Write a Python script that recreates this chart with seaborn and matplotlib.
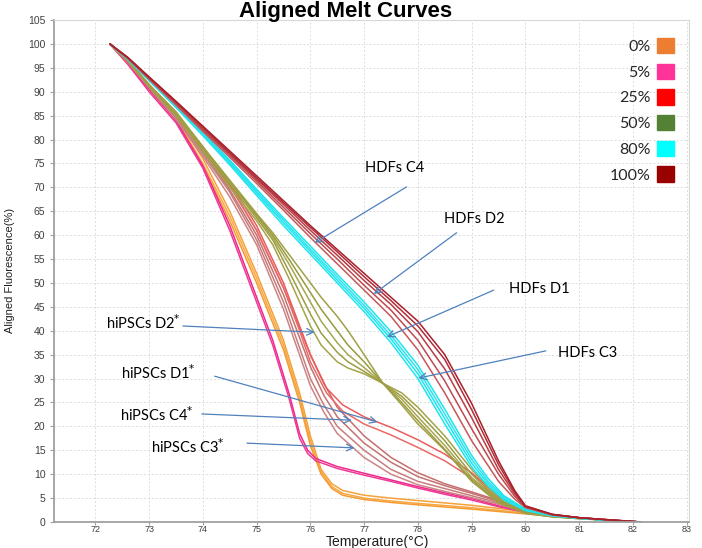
import numpy as np
import pandas as pd
import matplotlib
matplotlib.use("Agg")
import matplotlib.pyplot as plt
import seaborn as sns
from matplotlib.patches import Patch

# ---------------- data ----------------
T_orange = [72.27, 72.6, 73, 73.5, 74, 74.5, 75, 75.5, 75.8, 76, 76.2, 76.4, 76.6, 77, 77.5, 78, 79, 80, 80.5, 81, 81.5, 82.15]
orange_1 = [100, 96.2, 91, 85, 76, 65, 52, 38, 27, 18, 11, 8, 6.6, 5.6, 5.0, 4.5, 3.5, 2.2, 1.4, 0.9, 0.4, 0]
orange_2 = [100, 96.0, 90.5, 84.5, 75, 64, 51, 37, 26, 17, 10.5, 7.4, 6.0, 5.0, 4.4, 3.9, 3.0, 1.9, 1.3, 0.8, 0.4, 0]
orange_3 = [100, 95.8, 90.5, 84, 74.5, 63, 50, 36, 25, 16, 10, 7.0, 5.6, 4.7, 4.1, 3.6, 2.7, 1.7, 1.2, 0.8, 0.4, 0]

T_pink = [72.27, 72.6, 73, 73.5, 74, 74.5, 75, 75.3, 75.6, 75.8, 75.95, 76.1, 76.5, 77, 77.5, 78, 78.5, 79, 79.5, 80, 80.5, 81, 81.5, 82.15]
pink_1 = [100, 96, 90.5, 84, 74.5, 62, 47, 38, 27, 18.5, 15, 13.3, 11.6, 10.2, 8.8, 7.4, 6.1, 4.9, 3.4, 2.1, 1.3, 0.8, 0.4, 0]
pink_2 = [100, 95.8, 90, 83.5, 74, 61, 46, 37, 26, 17.5, 14.3, 12.8, 11.2, 9.8, 8.5, 7.1, 5.8, 4.6, 3.2, 2.0, 1.2, 0.8, 0.4, 0]

T_rosy = [72.27, 72.6, 73, 73.5, 74, 74.5, 75, 75.5, 75.75, 76, 76.25, 76.5, 77, 77.5, 78, 78.5, 79, 79.5, 80, 80.5, 81, 81.5, 82.15]
rosy_1 = [100, 96.3, 91, 84.5, 77, 69, 59, 46, 38, 30, 24.5, 20, 15, 11, 8.5, 7, 5.5, 4, 2.3, 1.4, 0.9, 0.4, 0]
rosy_2 = [100, 96.4, 91.2, 85, 77.5, 69.5, 60, 47.5, 40, 32.5, 26.5, 22, 16.5, 12.5, 9.5, 7.6, 6, 4.3, 2.4, 1.4, 0.9, 0.4, 0]
rosy_3 = [100, 96.2, 90.8, 84.2, 76.5, 68, 58, 44.5, 36.5, 28.5, 23, 18.5, 13.5, 10, 7.8, 6.4, 5.1, 3.7, 2.2, 1.3, 0.8, 0.4, 0]
rosy_4 = [100, 96.4, 91.3, 85.2, 78, 70.5, 61, 49, 42, 35, 29, 24, 18, 13.5, 10.3, 8, 6.3, 4.5, 2.5, 1.5, 0.9, 0.4, 0]

T_red = [72.27, 72.6, 73, 73.5, 74, 74.5, 75, 75.5, 75.8, 76, 76.3, 76.6, 77, 77.5, 78, 78.5, 79, 79.5, 80, 80.5, 81, 81.5, 82.15]
red_1 = [100, 96.5, 91.5, 85.5, 78.5, 71, 62, 50, 41, 35, 28, 24.5, 22, 19.8, 17.2, 14.2, 10.3, 5.3, 2.4, 1.4, 0.9, 0.4, 0]
red_2 = [100, 96.4, 91.3, 85.2, 78, 70.3, 61, 49, 40, 33.5, 27, 23.2, 20.5, 18.2, 15.6, 12.8, 9.2, 4.8, 2.2, 1.3, 0.8, 0.4, 0]

T_olive = [72.27, 72.6, 73, 73.5, 74, 74.5, 75, 75.3, 75.6, 76, 76.2, 76.5, 76.7, 77, 77.35, 77.7, 78, 78.5, 79, 79.5, 80, 80.5, 81, 81.5, 82.15]
olive_1 = [100, 96.5, 91, 85, 77.5, 70, 63, 58, 51, 41, 37, 33.5, 32.2, 31, 29, 27, 24, 18, 11, 5, 2, 1.2, 0.8, 0.4, 0]
olive_2 = [100, 96.6, 91.2, 85.3, 78, 70.7, 63.6, 59, 52.5, 43.5, 39.5, 35.5, 33.5, 31.5, 29, 26.3, 23, 17, 10, 4.7, 2, 1.2, 0.8, 0.4, 0]
olive_3 = [100, 96.6, 91.3, 85.5, 78.2, 71, 64, 59.5, 54, 46, 42, 37.5, 35, 32.3, 29, 25.7, 22, 16, 9.3, 4.4, 1.9, 1.1, 0.8, 0.4, 0]
olive_4 = [100, 96.7, 91.4, 85.7, 78.4, 71.3, 64.3, 60, 55, 48, 44.5, 40, 37, 33.5, 29, 25, 21.2, 15.2, 8.8, 4.2, 1.9, 1.1, 0.7, 0.4, 0]
olive_5 = [100, 96.7, 91.5, 85.8, 78.5, 71.5, 64.5, 60.5, 56, 50, 47, 43, 40, 35, 29, 24.5, 20.5, 15, 8.5, 4, 1.8, 1.1, 0.7, 0.4, 0]

T_cyan = [72.27, 72.6, 73, 73.5, 74, 74.5, 75, 75.5, 76, 76.5, 77, 77.5, 78, 78.5, 79, 79.3, 79.6, 80, 80.5, 81, 81.5, 82.15]
cyan_1 = [100, 96.8, 92.3, 86.7, 80.8, 74.7, 68.3, 62, 56, 50, 44, 37.5, 30, 20.5, 11.5, 7.6, 4.6, 2.4, 1.3, 0.8, 0.4, 0]
cyan_2 = [100, 96.9, 92.4, 86.9, 81.1, 75.1, 68.8, 62.6, 56.6, 50.6, 44.7, 38.3, 31.0, 21.6, 12.3, 8.1, 4.9, 2.5, 1.3, 0.8, 0.4, 0]
cyan_3 = [100, 96.9, 92.5, 87.1, 81.3, 75.4, 69.2, 63.1, 57.1, 51.2, 45.3, 39.0, 31.9, 22.6, 13.1, 8.6, 5.2, 2.6, 1.4, 0.8, 0.4, 0]
cyan_4 = [100, 97, 92.6, 87.3, 81.6, 75.7, 69.6, 63.6, 57.7, 51.8, 46.0, 39.8, 32.8, 23.6, 13.9, 9.2, 5.5, 2.7, 1.4, 0.8, 0.4, 0]

T_dark = [72.27, 72.6, 73, 73.5, 74, 74.5, 75, 75.5, 76, 76.5, 77, 77.5, 78, 78.5, 79, 79.5, 79.8, 80, 80.5, 81, 81.5, 82.15]
dark_1 = [100, 97, 92.6, 87.2, 81.7, 76.3, 70.8, 65.2, 59.5, 54, 48.5, 43, 36, 27, 17, 8.5, 4.8, 3, 1.5, 0.9, 0.5, 0]
dark_2 = [100, 97.1, 92.8, 87.5, 82, 76.7, 71.3, 65.8, 60.3, 55, 49.5, 44.3, 38, 29.5, 19.5, 10, 5.4, 3.1, 1.5, 0.9, 0.5, 0]
dark_3 = [100, 97.1, 92.9, 87.7, 82.3, 77, 71.7, 66.4, 61, 55.8, 50.5, 45.5, 39.8, 32, 21.8, 11, 5.9, 3.2, 1.6, 0.9, 0.5, 0]
dark_4 = [100, 97.2, 93, 87.9, 82.6, 77.3, 72, 66.8, 61.6, 56.5, 51.3, 46.3, 41, 34, 23.5, 12, 6.3, 3.3, 1.6, 0.9, 0.5, 0]
dark_5 = [100, 97.2, 93.1, 88, 82.8, 77.6, 72.4, 67.2, 62, 57, 52, 47, 42, 35, 24.8, 12.8, 6.6, 3.4, 1.6, 0.9, 0.5, 0]

legend_labels = ["0%", "5%", "25%", "50%", "80%", "100%"]
legend_colors = ["#ED7D31", "#FF3399", "#FF0000", "#548235", "#00FFFF", "#990000"]

annot_labels = ["HDFs C4", "HDFs D2", "HDFs D1", "HDFs C3",
                "hiPSCs D2$^{*}$", "hiPSCs D1$^{*}$", "hiPSCs C4$^{*}$", "hiPSCs C3$^{*}$"]

# ---------------- assemble ----------------
curves = [
    ("orange_1", T_orange, orange_1, "#F5A23A"),
    ("orange_2", T_orange, orange_2, "#F7A945"),
    ("orange_3", T_orange, orange_3, "#F39A30"),
    ("pink_1", T_pink, pink_1, "#F0288C"),
    ("pink_2", T_pink, pink_2, "#EE3A95"),
    ("rosy_1", T_rosy, rosy_1, "#C97C7C"),
    ("rosy_2", T_rosy, rosy_2, "#C47272"),
    ("rosy_3", T_rosy, rosy_3, "#CC8484"),
    ("rosy_4", T_rosy, rosy_4, "#C66E6E"),
    ("red_1", T_red, red_1, "#EC5C5C"),
    ("red_2", T_red, red_2, "#E86A66"),
    ("olive_1", T_olive, olive_1, "#A3A34A"),
    ("olive_2", T_olive, olive_2, "#9C9C40"),
    ("olive_3", T_olive, olive_3, "#A6A650"),
    ("olive_4", T_olive, olive_4, "#999A3C"),
    ("olive_5", T_olive, olive_5, "#A0A046"),
    ("cyan_1", T_cyan, cyan_1, "#22E3EE"),
    ("cyan_2", T_cyan, cyan_2, "#10EAF2"),
    ("cyan_3", T_cyan, cyan_3, "#3ADDE8"),
    ("cyan_4", T_cyan, cyan_4, "#18E6F0"),
    ("dark_1", T_dark, dark_1, "#C4585A"),
    ("dark_2", T_dark, dark_2, "#BE4A50"),
    ("dark_3", T_dark, dark_3, "#B83C44"),
    ("dark_4", T_dark, dark_4, "#B02C36"),
    ("dark_5", T_dark, dark_5, "#A8202C"),
]
rows = []
for name, T, F, _ in curves:
    for t, f in zip(T, F):
        rows.append((name, t, f))
df = pd.DataFrame(rows, columns=["curve", "T", "F"])
palette = {name: c for name, _, _, c in curves}

# ---------------- figure ----------------
sns.set_theme(style="white")
plt.rcParams["font.family"] = ["Liberation Sans", "DejaVu Sans"]

fig = plt.figure(figsize=(7.02, 5.48), dpi=100)
ax = fig.add_axes([0.0765, 0.0474, 0.9055, 0.9161])

sns.lineplot(data=df, x="T", y="F", hue="curve", palette=palette, units="curve",
             estimator=None, sort=False, legend=False, linewidth=1.1, ax=ax)

ax.set_xlim(71.225, 83.05)
ax.set_ylim(0, 105)
ax.set_xticks(np.arange(72, 84, 1))
ax.set_yticks(np.arange(0, 106, 5))
ax.set_xlabel("")
ax.set_ylabel("")
ax.grid(True, color="#DCDCDC", linestyle=(0, (2, 2)), linewidth=0.7)
ax.set_axisbelow(True)
for s in ["left", "bottom"]:
    ax.spines[s].set_color("#A0A0A0")
    ax.spines[s].set_linewidth(1.3)
for s in ["top", "right"]:
    ax.spines[s].set_color("#D8D8D8")
    ax.spines[s].set_linewidth(0.8)
ax.tick_params(axis="both", bottom=True, left=True, width=0.8,
               color="#A0A0A0", labelcolor="#404040")
ax.tick_params(axis="y", labelsize=7.5, pad=3, length=3)
ax.tick_params(axis="x", labelsize=6.5, pad=0.5, length=2)

fig.text(0.492, 0.999, "Aligned Melt Curves", ha="center", va="top",
         fontsize=16, fontweight="bold", color="black")
fig.text(0.538, -0.001, "Temperature(\u00b0C)", ha="center", va="bottom",
         fontsize=10, color="#202020")
fig.text(0.0142, 0.507, "Aligned Fluorescence(%)", ha="center", va="center",
         rotation=90, fontsize=8, color="#202020")

# legend
handles = [Patch(facecolor=c, edgecolor=c) for c in legend_colors]
fig.legend(handles, legend_labels, loc="upper right",
           bbox_to_anchor=(674 / 702, 1 - 38 / 548), bbox_transform=fig.transFigure,
           markerfirst=False, frameon=False, handlelength=1.06, handleheight=1.1,
           handletextpad=0.4, labelspacing=0.6, borderpad=0, borderaxespad=0,
           prop={"family": ["Lato", "DejaVu Sans"], "size": 11.5})

# annotations (label position, arrow tail, arrow head) in data coordinates
annot_text_pos = [(77.57, 74.1), (79.05, 63.4), (80.26, 48.7), (81.15, 35.4),
                  (72.89, 41.6), (73.17, 31.2), (73.14, 22.4), (73.72, 15.7)]
annot_tail = [(77.79, 70.1), (78.72, 60.5), (79.41, 48.5), (80.38, 35.8),
              (73.63, 41.0), (74.22, 30.5), (73.98, 22.6), (74.82, 16.5)]
annot_head = [(76.08, 58.4), (77.18, 47.7), (77.42, 38.7), (78.01, 30.1),
              (76.08, 39.7), (77.25, 20.9), (76.77, 21.3), (76.82, 15.5)]
for lab, tp, tail, head in zip(annot_labels, annot_text_pos, annot_tail, annot_head):
    ax.annotate("", xy=head, xytext=tail,
                arrowprops=dict(arrowstyle="->", color="#4F81BD", lw=0.9,
                                shrinkA=0, shrinkB=0, mutation_scale=12))
    ax.text(tp[0], tp[1], lab, ha="center", va="center", fontsize=10.5,
            family=["Lato", "DejaVu Sans"], color="black")

fig.savefig("out.png", dpi=100)
